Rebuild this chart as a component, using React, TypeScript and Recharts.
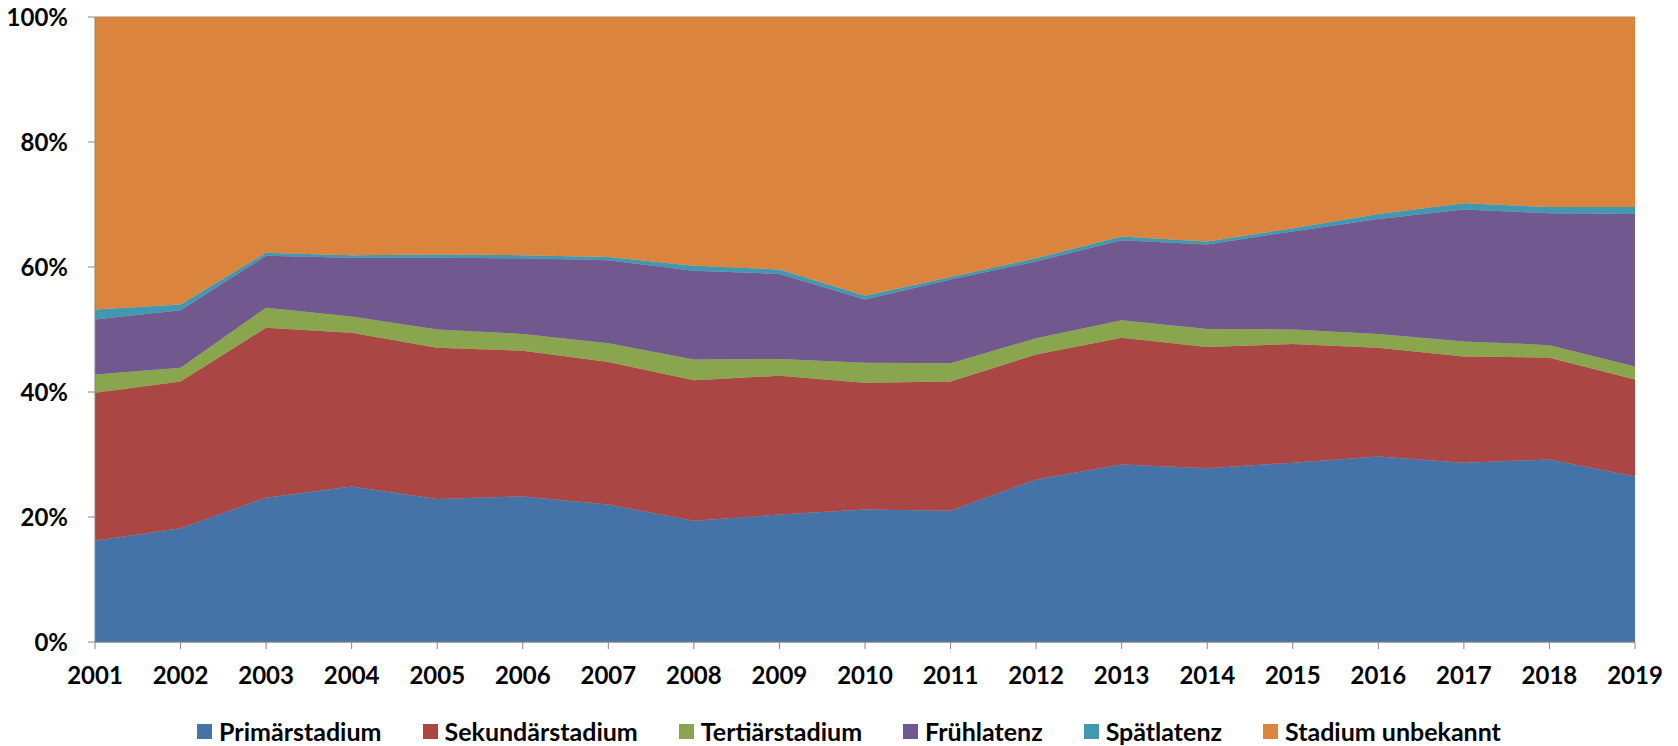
import React from 'react'
import { AreaChart, Area, XAxis, YAxis, CartesianGrid, Legend } from 'recharts'

const years = [
  '2001', '2002', '2003', '2004', '2005', '2006', '2007', '2008', '2009', '2010',
  '2011', '2012', '2013', '2014', '2015', '2016', '2017', '2018', '2019',
]

// shares in percent
const primaer = [16.2, 18.2, 23.1, 24.9, 22.9, 23.3, 22.0, 19.4, 20.4, 21.2, 21.0, 26.0, 28.4, 27.8, 28.7, 29.7, 28.7, 29.2, 26.5]
const sekundaer = [23.7, 23.5, 27.2, 24.6, 24.2, 23.3, 22.8, 22.5, 22.2, 20.3, 20.7, 20.0, 20.3, 19.4, 19.0, 17.4, 17.0, 16.3, 15.5]
const tertiaer = [2.9, 2.2, 3.2, 2.6, 2.9, 2.7, 3.0, 3.3, 2.7, 3.2, 2.9, 2.6, 2.8, 2.9, 2.3, 2.2, 2.4, 2.0, 2.1]
const fruehlatenz = [8.8, 9.2, 8.3, 9.4, 11.5, 12.1, 13.3, 14.2, 13.6, 10.1, 13.4, 12.3, 12.8, 13.5, 15.7, 18.4, 21.1, 21.1, 24.4]
const spaetlatenz = [1.6, 0.9, 0.5, 0.4, 0.5, 0.5, 0.5, 0.8, 0.7, 0.6, 0.4, 0.5, 0.6, 0.5, 0.5, 0.8, 1.0, 1.0, 1.1]
const unbekannt = [46.8, 46.0, 37.7, 38.1, 38.0, 38.1, 38.4, 39.8, 40.4, 44.6, 41.6, 38.6, 35.1, 35.9, 33.8, 31.5, 29.8, 30.4, 30.4]

const yTicks = [0, 20, 40, 60, 80, 100]

const SERIES = [
  { key: 'primaer', name: 'Primärstadium', color: '#4572A7', values: primaer },
  { key: 'sekundaer', name: 'Sekundärstadium', color: '#AA4643', values: sekundaer },
  { key: 'tertiaer', name: 'Tertiärstadium', color: '#89A54E', values: tertiaer },
  { key: 'fruehlatenz', name: 'Frühlatenz', color: '#71588F', values: fruehlatenz },
  { key: 'spaetlatenz', name: 'Spätlatenz', color: '#4198AF', values: spaetlatenz },
  { key: 'unbekannt', name: 'Stadium unbekannt', color: '#DB843D', values: unbekannt },
]

const data = years.map((year, i) => {
  const row: { [key: string]: string | number } = { year }
  SERIES.forEach((s) => {
    row[s.key] = s.values[i]
  })
  return row
})

const FONT = 'Lato, "Open Sans", sans-serif'
const AXIS_COLOR = '#868686'
const tickStyle = { fill: '#000', fontSize: 24, fontWeight: 700, fontFamily: FONT }

const renderLegend = () => (
  <div
    style={{
      display: 'flex',
      justifyContent: 'center',
      alignItems: 'center',
      gap: 41,
      height: 30,
      paddingLeft: 63,
      fontFamily: FONT,
      fontWeight: 700,
      fontSize: 25,
      color: '#000',
    }}
  >
    {SERIES.map((s) => (
      <div key={s.key} style={{ display: 'flex', alignItems: 'center' }}>
        <span style={{ width: 15, height: 15, background: s.color, marginRight: 7, display: 'inline-block' }} />
        <span>{s.name}</span>
      </div>
    ))}
  </div>
)

export default function App() {
  return (
    <div style={{ position: 'absolute', left: 0, top: 0, width: 1678, height: 746, background: '#fff' }}>
      <AreaChart
        width={1678}
        height={746}
        data={data}
        margin={{ top: 17, right: 43, left: 0, bottom: 0 }}
      >
        <CartesianGrid vertical={false} stroke={AXIS_COLOR} />
        <XAxis
          dataKey="year"
          height={74}
          stroke={AXIS_COLOR}
          tickSize={7}
          tickMargin={18}
          tick={tickStyle}
          interval={0}
        />
        <YAxis
          width={95}
          domain={[0, 100]}
          ticks={yTicks}
          tickFormatter={(v: number) => `${v}%`}
          stroke={AXIS_COLOR}
          tickSize={7}
          tickMargin={20}
          tick={tickStyle}
          allowDataOverflow
        />
        {SERIES.map((s) => (
          <Area
            key={s.key}
            type="linear"
            dataKey={s.key}
            name={s.name}
            stackId="1"
            stroke={s.color}
            strokeWidth={0.5}
            fill={s.color}
            fillOpacity={1}
            dot={false}
            activeDot={false}
            isAnimationActive={false}
          />
        ))}
        <Legend verticalAlign="bottom" content={renderLegend} />
      </AreaChart>
    </div>
  )
}
